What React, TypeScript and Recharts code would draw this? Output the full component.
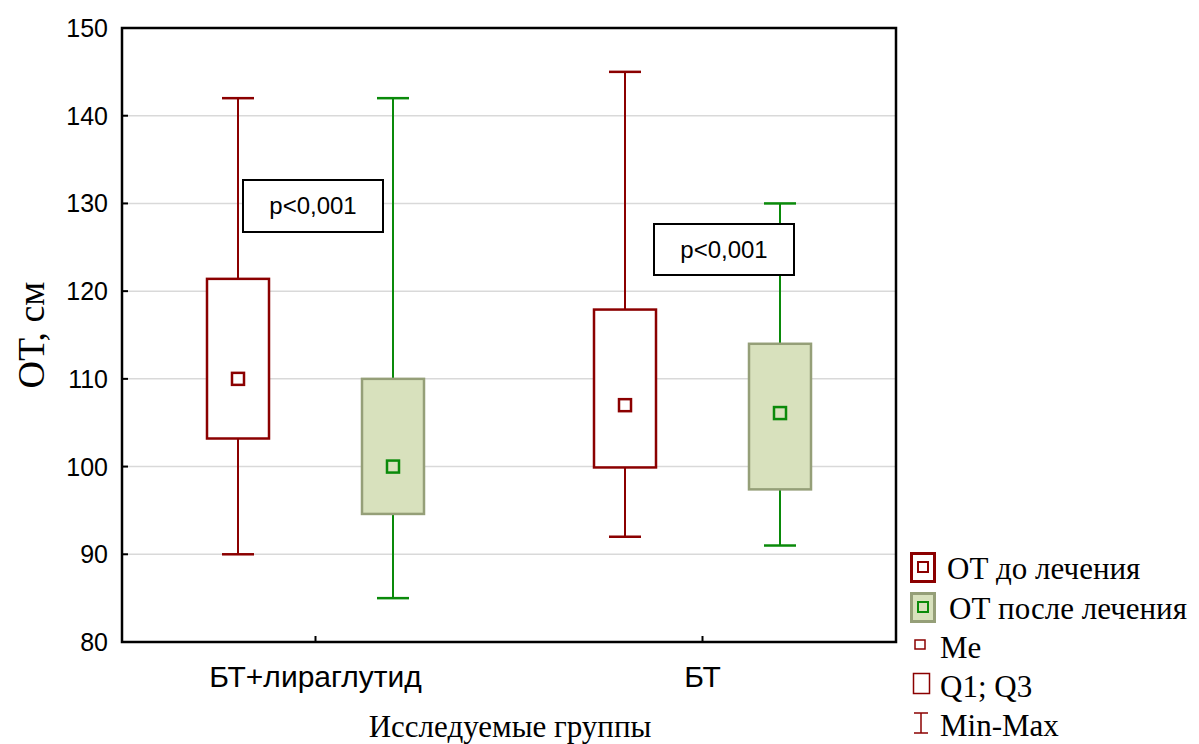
import { BarChart, Bar, XAxis, YAxis, CartesianGrid, ReferenceArea } from 'recharts';

const groups = ['БТ+лираглутид', 'БТ'];

// ОТ до лечения
const beforeMin = [90, 92];
const beforeQ1 = [103.2, 99.9];
const beforeMe = [110, 107];
const beforeQ3 = [121.4, 117.9];
const beforeMax = [142, 145];

// ОТ после лечения
const afterMin = [85, 91];
const afterQ1 = [94.6, 97.4];
const afterMe = [100, 106.1];
const afterQ3 = [110, 114];
const afterMax = [142, 130];

const yTicks = [80, 90, 100, 110, 120, 130, 140, 150];

const data = groups.map((g, i) => ({
  group: g,
  before: { min: beforeMin[i], q1: beforeQ1[i], me: beforeMe[i], q3: beforeQ3[i], max: beforeMax[i] },
  after: { min: afterMin[i], q1: afterQ1[i], me: afterMe[i], q3: afterQ3[i], max: afterMax[i] },
}));

const RED = '#8b0000';
const GREEN = '#0a8a0a';
const GREEN_FILL = '#d8e1bd';
const GREEN_EDGE = '#959f78';

const makeBox = (key: 'before' | 'after') => (props: any) => {
  const { x, y, width, height, payload } = props;
  const s = payload[key];
  const top = Math.min(y, y + height);
  const h = Math.abs(height);
  const py = (v: number) => top + ((s.max - v) / (s.max - s.min)) * h;
  const cx = x + width / 2;
  const line = key === 'before' ? RED : GREEN;
  const fill = key === 'before' ? '#fff' : GREEN_FILL;
  const edge = key === 'before' ? RED : GREEN_EDGE;
  const cap = 16;
  return (
    <g>
      <line x1={cx} x2={cx} y1={py(s.max)} y2={py(s.min)} stroke={line} strokeWidth={2} />
      <line x1={cx - cap} x2={cx + cap} y1={py(s.max)} y2={py(s.max)} stroke={line} strokeWidth={2.5} />
      <line x1={cx - cap} x2={cx + cap} y1={py(s.min)} y2={py(s.min)} stroke={line} strokeWidth={2.5} />
      <rect x={x} y={py(s.q3)} width={width} height={py(s.q1) - py(s.q3)} fill={fill} stroke={edge} strokeWidth={2.5} />
      <rect x={cx - 6} y={py(s.me) - 6} width={12} height={12} fill="none" stroke={line} strokeWidth={2.5} />
    </g>
  );
};

const YTick = (props: any) => {
  const { x, y, payload } = props;
  const axisX = x + 8;
  return (
    <g>
      <line x1={axisX} x2={axisX + 6} y1={y} y2={y} stroke="#000" strokeWidth={2} />
      <text x={x - 6} y={y + 9} textAnchor="end" fontFamily="'Liberation Sans', Arial, sans-serif" fontSize={25} fill="#000">
        {payload.value}
      </text>
    </g>
  );
};

const XTick = (props: any) => {
  const { x, y, payload } = props;
  const axisY = y - 8;
  return (
    <g>
      <line x1={x} x2={x} y1={axisY} y2={axisY - 6} stroke="#000" strokeWidth={2} />
      <text x={x} y={axisY + 45} textAnchor="middle" fontFamily="'Liberation Sans', Arial, sans-serif" fontSize={30} fill="#000">
        {payload.value}
      </text>
    </g>
  );
};

const pBox: React.CSSProperties = {
  position: 'absolute',
  boxSizing: 'border-box',
  border: '2.5px solid #000',
  background: '#fff',
  display: 'flex',
  alignItems: 'center',
  justifyContent: 'center',
  fontFamily: "'Liberation Sans', Arial, sans-serif",
  fontSize: 24,
  color: '#000',
};

const serif = "'Liberation Serif', 'Times New Roman', serif";

const Legend = () => (
  <svg width={299} height={200} style={{ position: 'absolute', left: 900, top: 544 }}>
    <g fontFamily={serif} fontSize={31} fill="#000">
      <rect x={11.5} y={9.5} width={23} height={28} fill="#fff" stroke={RED} strokeWidth={3} />
      <rect x={18} y={18} width={10} height={10} fill="none" stroke={RED} strokeWidth={2} />
      <text x={47} y={35}>ОТ до лечения</text>

      <rect x={11.5} y={49.5} width={23} height={28} fill={GREEN_FILL} stroke={GREEN_EDGE} strokeWidth={3} />
      <rect x={18} y={58} width={10} height={10} fill="none" stroke={GREEN} strokeWidth={2} />
      <text x={49} y={75}>ОТ после лечения</text>

      <rect x={15} y={96} width={10} height={9} fill="none" stroke={RED} strokeWidth={1.5} />
      <text x={40} y={114}>Me</text>

      <rect x={13.5} y={129.5} width={16} height={20} fill="none" stroke={RED} strokeWidth={1.5} />
      <text x={40} y={153}>Q1; Q3</text>

      <line x1={21} x2={21} y1={169} y2={189} stroke={RED} strokeWidth={1.5} />
      <line x1={14} x2={28} y1={169} y2={169} stroke={RED} strokeWidth={1.5} />
      <line x1={14} x2={28} y1={189} y2={189} stroke={RED} strokeWidth={1.5} />
      <text x={40} y={192}>Min-Max</text>
    </g>
  </svg>
);

export default function App() {
  return (
    <div style={{ position: 'absolute', left: 0, top: 0, width: 1199, height: 744, background: '#fff', overflow: 'hidden' }}>
      <BarChart width={1199} height={744} data={data} margin={{ top: 28, right: 303, bottom: 0, left: 0 }} barSize={62} barGap={93}>
        <CartesianGrid vertical={false} stroke="#d9d9d9" strokeWidth={1.5} />
        <XAxis dataKey="group" height={102} tickLine={false} axisLine={false} tickSize={6} tickMargin={2} tick={<XTick />} interval={0} />
        <YAxis
          domain={[80, 150]}
          ticks={yTicks}
          width={122}
          tickLine={false}
          axisLine={false}
          tickSize={6}
          tickMargin={2}
          tick={<YTick />}
          allowDataOverflow
        />
        <Bar dataKey={(d: any) => [d.before.min, d.before.max]} shape={makeBox('before')} isAnimationActive={false} />
        <Bar dataKey={(d: any) => [d.after.min, d.after.max]} shape={makeBox('after')} isAnimationActive={false} />
        <ReferenceArea y1={80} y2={150} fill="none" stroke="#000" strokeWidth={2.5} ifOverflow="visible" />
      </BarChart>

      <div style={{ ...pBox, left: 242, top: 179, width: 142, height: 54 }}>p&lt;0,001</div>
      <div style={{ ...pBox, left: 653, top: 223, width: 142, height: 53 }}>p&lt;0,001</div>

      <div
        style={{
          position: 'absolute',
          left: 31,
          top: 335,
          transform: 'translate(-50%, -50%) rotate(-90deg)',
          fontFamily: serif,
          fontSize: 38,
          whiteSpace: 'nowrap',
          color: '#000',
        }}
      >
        ОТ, см
      </div>
      <div
        style={{
          position: 'absolute',
          left: 510,
          top: 711,
          transform: 'translateX(-50%)',
          fontFamily: serif,
          fontSize: 31,
          lineHeight: '31px',
          whiteSpace: 'nowrap',
          color: '#000',
        }}
      >
        Исследуемые группы
      </div>
      <Legend />
    </div>
  );
}
